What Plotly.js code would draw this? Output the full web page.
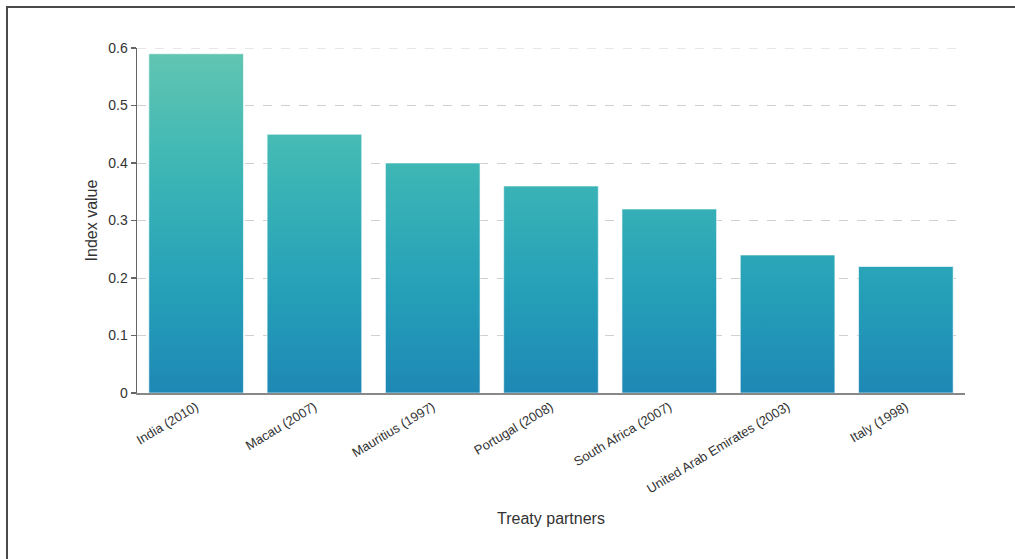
<!DOCTYPE html>
<html>
<head>
<meta charset="utf-8">
<script src="https://cdn.plot.ly/plotly-3.0.1.min.js"></script>
<style>
html,body{margin:0;padding:0;background:#fff;}
#frame{position:absolute;left:6px;top:6px;width:1100px;height:600px;border-left:2px solid #4a4a4a;border-top:2px solid #4a4a4a;pointer-events:none;z-index:5;}
#chart{position:absolute;left:0;top:0;width:1015px;height:559px;}
</style>
</head>
<body>
<div id="chart"></div>
<div id="frame"></div>
<script>
const categories = ["India (2010)", "Macau (2007)", "Mauritius (1997)", "Portugal (2008)", "South Africa (2007)", "United Arab Emirates (2003)", "Italy (1998)"];
const indexValues = [0.59, 0.45, 0.40, 0.36, 0.32, 0.24, 0.22];
const yTickVals = [0, 0.1, 0.2, 0.3, 0.4, 0.5, 0.6];
const yTickText = ["0", "0.1", "0.2", "0.3", "0.4", "0.5", "0.6"];
const yMax = 0.6;

const font = "Liberation Sans, Arial, sans-serif";

const trace = {
  type: "bar",
  x: categories,
  y: indexValues,
  marker: {color: "#2aa6b8", line: {color: "rgba(255,255,255,0.6)", width: 1}},
  hoverinfo: "x+y"
};

const layout = {
  width: 1015, height: 559,
  margin: {l: 137, r: 50, t: 48, b: 166},
  paper_bgcolor: "#fff", plot_bgcolor: "#fff",
  bargap: 0.2,
  showlegend: false,
  font: {family: font, color: "#333"},
  xaxis: {
    type: "category",
    showline: true, linecolor: "#888", linewidth: 1.5,
    ticks: "", tickangle: -31,
    tickfont: {size: 13, color: "#333", family: font},
    title: {text: "Treaty partners", font: {size: 16, color: "#333", family: font}, standoff: 17},
    showgrid: false, zeroline: false
  },
  yaxis: {
    range: [0, yMax],
    tickvals: yTickVals, ticktext: yTickText,
    showline: true, linecolor: "#666", linewidth: 1.5,
    ticks: "outside", ticklen: 5, tickcolor: "#666", tickwidth: 1.5,
    tickfont: {size: 14, color: "#333", family: font},
    showgrid: true, gridcolor: "#d0d0d0", gridwidth: 1, griddash: "dash",
    zeroline: false,
    title: {text: "Index value", font: {size: 16, color: "#333", family: font}, standoff: 6}
  },
  shapes: [{
    type: "line", layer: "below", xref: "paper", yref: "y",
    x0: 0, x1: 1, y0: yMax, y1: yMax,
    line: {color: "#d0d0d0", width: 1, dash: "dash"}
  }]
};

Plotly.newPlot("chart", [trace], layout, {displayModeBar: false, staticPlot: true}).then(function(gd){
  const h = gd._fullLayout._size.h;
  const svg = gd.querySelector(".main-svg");
  const ns = "http://www.w3.org/2000/svg";
  let defs = svg.querySelector("defs");
  if (!defs) { defs = document.createElementNS(ns, "defs"); svg.insertBefore(defs, svg.firstChild); }
  const g = document.createElementNS(ns, "linearGradient");
  g.setAttribute("id", "barGrad");
  g.setAttribute("gradientUnits", "userSpaceOnUse");
  g.setAttribute("x1", "0"); g.setAttribute("x2", "0");
  g.setAttribute("y1", "0"); g.setAttribute("y2", String(h));
  [["0", "#63c6b2"], ["0.35", "#3db6b5"], ["0.7", "#25a0b8"], ["1", "#1e88b5"]].forEach(function(s){
    const st = document.createElementNS(ns, "stop");
    st.setAttribute("offset", s[0]); st.setAttribute("stop-color", s[1]);
    g.appendChild(st);
  });
  defs.appendChild(g);
  gd.querySelectorAll(".barlayer .point path").forEach(function(p){
    p.style.fill = "url(#barGrad)";
  });
});
</script>
</body>
</html>
